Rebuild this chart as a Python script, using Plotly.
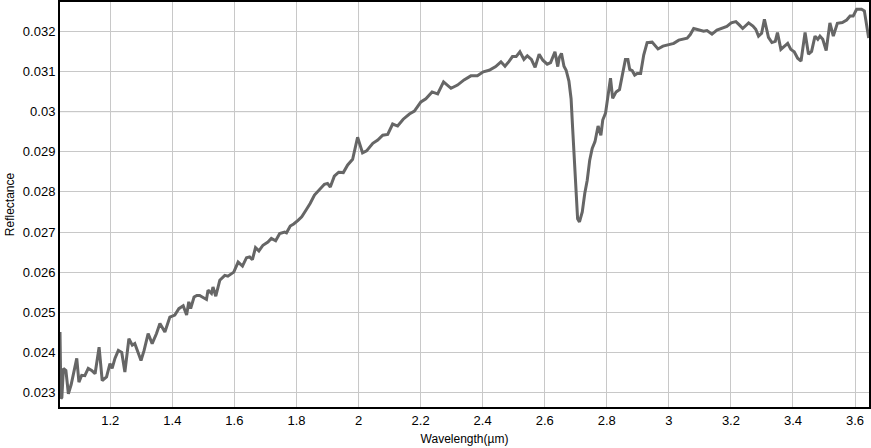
import plotly.graph_objects as go

# wavelength (µm) and reflectance
wavelength = [
    1.038, 1.041, 1.044, 1.049, 1.057, 1.065, 1.074, 1.083, 1.092, 1.099,
    1.108, 1.118, 1.129, 1.140, 1.151, 1.164, 1.174, 1.188, 1.199, 1.206,
    1.215, 1.226, 1.237, 1.247, 1.260, 1.271, 1.279, 1.299, 1.309, 1.322,
    1.335, 1.349, 1.360, 1.376, 1.392, 1.408, 1.421, 1.435, 1.446, 1.453,
    1.459, 1.470, 1.479, 1.488, 1.499, 1.510, 1.515, 1.526, 1.531, 1.540,
    1.553, 1.569, 1.579, 1.590, 1.598, 1.612, 1.626, 1.639, 1.649, 1.658,
    1.668, 1.679, 1.692, 1.708, 1.719, 1.733, 1.746, 1.762, 1.768, 1.780,
    1.791, 1.805, 1.817, 1.832, 1.844, 1.858, 1.874, 1.890, 1.900, 1.909,
    1.922, 1.936, 1.951, 1.965, 1.981, 1.997, 2.013, 2.026, 2.046, 2.062,
    2.078, 2.094, 2.110, 2.126, 2.144, 2.164, 2.180, 2.201, 2.217, 2.237,
    2.255, 2.274, 2.298, 2.319, 2.340, 2.362, 2.383, 2.402, 2.421, 2.442,
    2.459, 2.472, 2.485, 2.496, 2.508, 2.520, 2.533, 2.544, 2.557, 2.569,
    2.582, 2.594, 2.608, 2.619, 2.633, 2.642, 2.647, 2.654, 2.662, 2.669,
    2.678, 2.685, 2.690, 2.696, 2.701, 2.706, 2.712, 2.721, 2.729, 2.737,
    2.745, 2.753, 2.762, 2.772, 2.781, 2.787, 2.796, 2.804, 2.812, 2.819,
    2.830, 2.841, 2.852, 2.860, 2.868, 2.874, 2.882, 2.890, 2.898, 2.909,
    2.919, 2.930, 2.946, 2.965, 2.981, 3.000, 3.016, 3.032, 3.059, 3.069,
    3.080, 3.089, 3.102, 3.112, 3.123, 3.139, 3.155, 3.171, 3.187, 3.201,
    3.216, 3.227, 3.238, 3.257, 3.271, 3.280, 3.289, 3.299, 3.308, 3.321,
    3.332, 3.343, 3.350, 3.361, 3.373, 3.383, 3.393, 3.404, 3.415, 3.426,
    3.439, 3.450, 3.460, 3.471, 3.480, 3.487, 3.496, 3.507, 3.519, 3.530,
    3.543, 3.559, 3.573, 3.584, 3.594, 3.605, 3.621, 3.630, 3.644,
]

reflectance = [
    0.02451, 0.02285, 0.02288, 0.02360, 0.02355, 0.02297, 0.02320, 0.02355, 0.02385, 0.02326,
    0.02343, 0.02342, 0.02360, 0.02355, 0.02347, 0.02413, 0.02330, 0.02339, 0.02372, 0.02360,
    0.02385, 0.02405, 0.02400, 0.02351, 0.02434, 0.02418, 0.02422, 0.02380, 0.02405, 0.02447,
    0.02422, 0.02447, 0.02472, 0.02451, 0.02488, 0.02493, 0.02509, 0.02516, 0.02493, 0.02526,
    0.02509, 0.02538, 0.02542, 0.02542, 0.02538, 0.02532, 0.02555, 0.02547, 0.02563, 0.02540,
    0.02580, 0.02592, 0.02590, 0.02597, 0.02600, 0.02625, 0.02615, 0.02636, 0.02638, 0.02631,
    0.02661, 0.02653, 0.02667, 0.02675, 0.02684, 0.02678, 0.02696, 0.02700, 0.02698, 0.02715,
    0.02720, 0.02729, 0.02738, 0.02756, 0.02771, 0.02792, 0.02806, 0.02819, 0.02821, 0.02812,
    0.02839, 0.02849, 0.02848, 0.02867, 0.02881, 0.02936, 0.02897, 0.02902, 0.02921, 0.02929,
    0.02941, 0.02943, 0.02969, 0.02964, 0.02981, 0.02994, 0.03001, 0.03024, 0.03032, 0.03049,
    0.03044, 0.03074, 0.03058, 0.03066, 0.03079, 0.03089, 0.03089, 0.03099, 0.03103, 0.03112,
    0.03124, 0.03113, 0.03125, 0.03137, 0.03137, 0.03149, 0.03130, 0.03139, 0.03130, 0.03110,
    0.03143, 0.03128, 0.03118, 0.03122, 0.03149, 0.03112, 0.03135, 0.03145, 0.03113, 0.03103,
    0.03076, 0.03032, 0.02958, 0.02870, 0.02785, 0.02733, 0.02725, 0.02750, 0.02796, 0.02829,
    0.02879, 0.02908, 0.02925, 0.02964, 0.02941, 0.02979, 0.02996, 0.03037, 0.03083, 0.03033,
    0.03049, 0.03055, 0.03103, 0.03130, 0.03130, 0.03105, 0.03102, 0.03091, 0.03095, 0.03095,
    0.03141, 0.03172, 0.03173, 0.03156, 0.03163, 0.03166, 0.03170, 0.03178, 0.03183, 0.03192,
    0.03207, 0.03205, 0.03202, 0.03200, 0.03202, 0.03193, 0.03203, 0.03207, 0.03212, 0.03221,
    0.03224, 0.03216, 0.03207, 0.03221, 0.03213, 0.03205, 0.03188, 0.03195, 0.03230, 0.03185,
    0.03172, 0.03175, 0.03197, 0.03155, 0.03162, 0.03170, 0.03155, 0.03149, 0.03133, 0.03126,
    0.03197, 0.03143, 0.03150, 0.03188, 0.03180, 0.03188, 0.03180, 0.03152, 0.03221, 0.03188,
    0.03220, 0.03222, 0.03228, 0.03238, 0.03238, 0.03255, 0.03255, 0.03251, 0.03183,
]

fig = go.Figure()

fig.add_trace(go.Scatter(
    x=wavelength,
    y=reflectance,
    mode='lines',
    line=dict(color='#666666', width=3),
    showlegend=False,
))

# darker grid lines at x=2 and y=0.03
fig.add_shape(type='line', xref='x', yref='paper', x0=2, x1=2, y0=0, y1=1,
              line=dict(color='#777777', width=1), layer='below')
fig.add_shape(type='line', xref='paper', yref='y', x0=0, x1=1, y0=0.03, y1=0.03,
              line=dict(color='#777777', width=1), layer='below')

fig.update_layout(
    width=871,
    height=448,
    margin=dict(l=60, r=0, t=2, b=41),
    paper_bgcolor='white',
    plot_bgcolor='white',
    font=dict(family='Liberation Sans, Arial, sans-serif', size=12, color='black'),
    xaxis=dict(
        range=[1.038, 3.645],
        dtick=0.2,
        showgrid=True,
        gridcolor='#c8c8c8',
        gridwidth=1,
        showline=True,
        linecolor='black',
        linewidth=2,
        mirror=True,
        zeroline=False,
        ticks='',
        tickfont=dict(size=13),
        title=dict(text='Wavelength(µm)', font=dict(size=12), standoff=8),
    ),
    yaxis=dict(
        range=[0.02264, 0.03273],
        dtick=0.001,
        showgrid=True,
        gridcolor='#c8c8c8',
        gridwidth=1,
        showline=True,
        linecolor='black',
        linewidth=2,
        mirror=True,
        zeroline=False,
        ticks='',
        tickfont=dict(size=13),
        title=dict(text='Reflectance', font=dict(size=12), standoff=6),
    ),
)

# drop the default page margin so the figure sits at the window's corner
fig.write_html("out.html", config={'displayModeBar': False},
               post_script="document.body.style.margin='0';")
